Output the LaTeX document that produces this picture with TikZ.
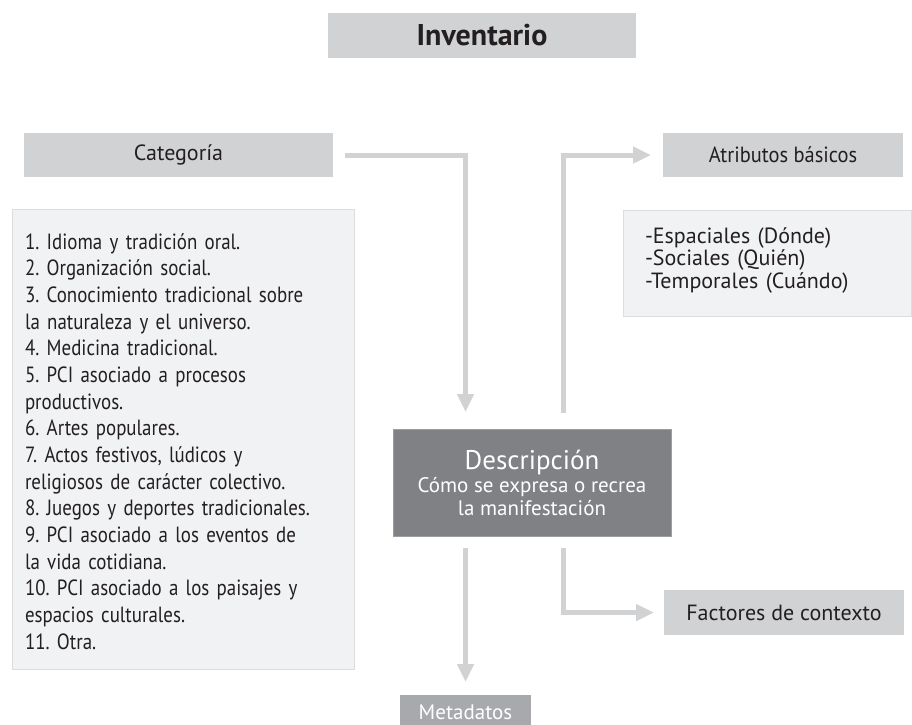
\documentclass[tikz,border=0pt]{standalone}
\usepackage{fontspec}
\setmainfont{PT Sans}
\newfontfamily\condlist[FakeStretch=0.86]{PT Sans}
\newfontfamily\condatr[FakeStretch=0.93]{PT Sans}
\usetikzlibrary{arrows.meta}
\definecolor{boxgray}{HTML}{D1D2D4}
\definecolor{lightbox}{HTML}{F1F2F4}
\definecolor{lightborder}{HTML}{DCDDDF}
\definecolor{darkbox}{HTML}{808184}
\definecolor{darkborder}{HTML}{9D9EA0}
\definecolor{metabox}{HTML}{A7A9AC}
\definecolor{arrowgray}{HTML}{D1D2D4}
\definecolor{txt}{HTML}{231F20}
\frenchspacing
\begin{document}
\begin{tikzpicture}[x=1pt,y=-1pt,
  every node/.style={inner sep=0pt, outer sep=0pt, text=txt},
  graybox/.style={fill=boxgray, draw=none},
  listbox/.style={fill=lightbox, draw=lightborder, line width=1pt},
  normfont/.style={font=\fontsize{22}{26}\selectfont\frenchspacing},
  conn/.style={draw=arrowgray, line width=5pt, -{Triangle[length=18pt,width=16pt]}}
]
\useasboundingbox (0,0) rectangle (912,724);
\fill[white] (0,0) rectangle (912,724);

% boxes
\node[graybox, minimum width=308pt, minimum height=45pt,
      font=\bfseries\fontsize{30}{34}\selectfont] (inv) at (482,35.5) {Inventario};
\node[graybox, normfont, minimum width=309pt, minimum height=44pt] (cat) at (178.5,155) {Categoría};
\node[graybox, minimum width=240pt, minimum height=44pt,
      font=\condatr\fontsize{22}{26}\selectfont] (atr) at (783,155) {Atributos básicos};

\node[listbox, minimum width=342pt, minimum height=460pt] (lst) at (183,439) {};
\node[anchor=base west, text width=335pt, align=left,
      font=\condlist\fontsize{22}{26.67}\selectfont\frenchspacing] (lsttxt) at (25,249) {%
1. Idioma y tradición oral.\\
2. Organización social.\\
3. Conocimiento tradicional sobre\\
la naturaleza y el universo.\\
4. Medicina tradicional.\\
5. PCI asociado a procesos\\
productivos.\\
6. Artes populares.\\
7. Actos festivos, lúdicos y\\
religiosos de carácter colectivo.\\
8. Juegos y deportes tradicionales.\\
9. PCI asociado a los eventos de\\
la vida cotidiana.\\
10. PCI asociado a los paisajes y\\
espacios culturales.\\
11. Otra.};

\node[listbox, minimum width=288pt, minimum height=106pt] (atl) at (767,263) {};
\node[anchor=base west, text width=260pt, align=left,
      font=\fontsize{22}{22.5}\selectfont\frenchspacing] (atltxt) at (645,243) {%
-Espaciales (Dónde)\\
-Sociales (Quién)\\
-Temporales (Cuándo)};

\node[fill=darkbox, draw=darkborder, line width=1pt, minimum width=278pt, minimum height=107pt,
      text=white, align=center, font=\fontsize{21}{23}\selectfont] (desc) at (532,482.5)
  {{\fontsize{27}{23}\selectfont Descripción}\\Cómo se expresa o recrea\\la manifestación};

\node[graybox, normfont, minimum width=240pt, minimum height=45pt] (fac) at (784,612.5) {Factores de contexto};

\node[fill=metabox, minimum width=131pt, minimum height=34pt, text=white,
      font=\fontsize{21}{24}\selectfont] (meta) at (465.5,712) {Metadatos};

% connectors
\draw[conn, shorten <=12pt, shorten >=17pt] (cat.east) -| (meta.north |- desc.north);
\draw[conn, shorten <=16pt, shorten >=12pt] ([xshift=170pt]desc.north west) |- (atr.west);
\draw[conn, shorten <=12pt, shorten >=10pt] ([xshift=170pt]desc.south west) |- (fac.west);
\draw[conn, shorten <=12pt, shorten >=13pt] (meta.north |- desc.south) -- (meta.north);
\end{tikzpicture}
\end{document}
